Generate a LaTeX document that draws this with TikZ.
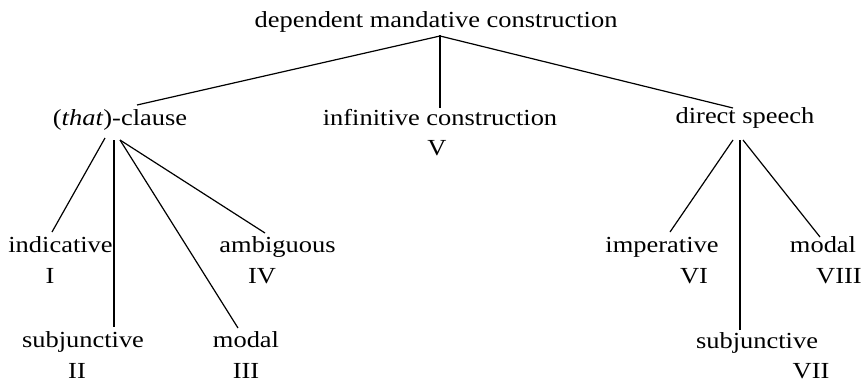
\documentclass[tikz,border=0pt]{standalone}
\usepackage{fontspec}
\setmainfont{Liberation Serif}
\begin{document}
\begin{tikzpicture}[x=1pt,y=-1pt]

% Styles til elementer
\tikzstyle{txt} 	=	[anchor=base, inner sep=0pt, font=\fontsize{23}{27}\selectfont, xscale=1.15, transform shape]
\tikzstyle{num} 	=	[txt]
\tikzstyle{branch} 	=	[line width=1.2pt]

	\useasboundingbox (0,0) rectangle (864,384);

	% Toppnode
	\node[txt] (top) at (436,27) {dependent mandative construction};

	% Andre nivaa
	\node[txt] (clause) at (120,125) {(\textit{that})-clause};
	\node[txt] (infinitive) at (440,125) {infinitive construction};
	\node[num] (num_v) at (437,155) {V};
	\node[txt] (direct) at (745,123) {direct speech};

	\draw[branch] ([xshift=4pt,yshift=-9pt]top.base) -- ([xshift=17pt,yshift=20pt]clause.base); % Venstre
	\draw[branch] ([xshift=4pt,yshift=-8pt]top.base) -- ([xshift=0pt,yshift=17pt]infinitive.base); % Midten
	\draw[branch] ([xshift=4pt,yshift=-9pt]top.base) -- ([xshift=-12pt,yshift=15pt]direct.base); % Hoyre

	% Clause
	\node[txt] (indicative) at (60.5,252) {indicative};
	\node[num] (num_i) at (50,283) {I};
	\node[txt] (ambiguous) at (277.5,252) {ambiguous};
	\node[num] (num_iv) at (262,283) {IV};
	\node[txt] (subjunctive) at (83,347) {subjunctive};
	\node[num] (num_ii) at (77,378) {II};
	\node[txt] (modal) at (246,347) {modal};
	\node[num] (num_iii) at (246,378) {III};

	\draw[branch] ([xshift=-15pt,yshift=-13pt]clause.base) -- ([xshift=-8.5pt,yshift=20pt]indicative.base);
	\draw[branch] ([xshift=-6pt,yshift=-15pt]clause.base) -- ([xshift=31pt,yshift=20pt]subjunctive.base);
	\draw[branch] ([xshift=0pt,yshift=-15pt]clause.base) -- ([xshift=-8pt,yshift=19pt]modal.base);
	\draw[branch] ([xshift=0pt,yshift=-15pt]clause.base) -- ([xshift=-12.5pt,yshift=19pt]ambiguous.base);

	% Direct speech
	\node[txt] (imperative) at (662,252) {imperative};
	\node[num] (num_vi) at (694,283) {VI};
	\node[txt] (modal_ds) at (823,252) {modal};
	\node[num] (num_viii) at (839,283) {VIII};
	\node[txt] (subjunctive_ds) at (757,348) {subjunctive};
	\node[num] (num_vii) at (811,378) {VII};

	\draw[branch] ([xshift=-12pt,yshift=-17pt]direct.base) -- ([xshift=8pt,yshift=20pt]imperative.base);
	\draw[branch] ([xshift=-5pt,yshift=-17pt]direct.base) -- ([xshift=-17pt,yshift=18pt]subjunctive_ds.base);
	\draw[branch] ([xshift=-2pt,yshift=-17pt]direct.base) -- ([xshift=-3pt,yshift=15pt]modal_ds.base);

\end{tikzpicture}
\end{document}
